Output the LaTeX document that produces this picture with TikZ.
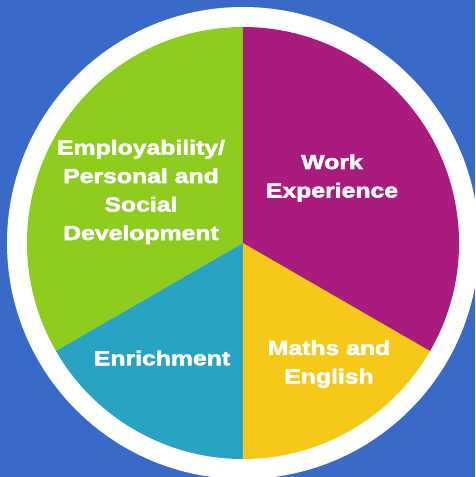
\documentclass[tikz,border=0pt]{standalone}
\usepackage{fontspec}
\newfontfamily\piefont[FakeStretch=1.22,FakeBold=2.5]{Liberation Sans Bold}
\definecolor{bgblue}{RGB}{58,106,200}
\definecolor{piegreen}{RGB}{142,204,30}
\definecolor{piemagenta}{RGB}{170,27,126}
\definecolor{pieteal}{RGB}{40,163,196}
\definecolor{pieyellow}{RGB}{246,201,24}

\begin{document}
\begin{tikzpicture}[x=1pt,y=1pt,
        slicetext/.style={text=white,align=center,
            font=\piefont\fontsize{20.3}{28.5}\selectfont}]
        \useasboundingbox (-243,-234) rectangle (232,243);
        \clip (-243,-234) rectangle (232,243);
        \fill[bgblue] (-243,-234) rectangle (232,243);

        \coordinate (c) at (0,0);
        \coordinate (s1) at (90:216);
        \coordinate (s2) at (210:216);
        \coordinate (s3) at (270:216);
        \coordinate (s4) at (330:216);

        \fill[white] (c) circle (236);
        \fill[piegreen] (c) -- (s1) arc (90:210:216) -- cycle;
        \fill[pieteal] (c) -- (s2) arc (210:270:216) -- cycle;
        \fill[pieyellow] (c) -- (s3) arc (270:330:216) -- cycle;
        \fill[piemagenta] (c) -- (s4) arc (-30:90:216) -- cycle;

        \node[slicetext] (emp) at (-102,51) {Employability/\\Personal and\\Social\\Development};
        \node[slicetext] (work) at (89,65) {Work\\Experience};
        \node[slicetext] (enrich) at (-81,-115) {Enrichment};
        \node[slicetext] (maths) at (86,-121) {Maths and\\English};
    \end{tikzpicture}
\end{document}
